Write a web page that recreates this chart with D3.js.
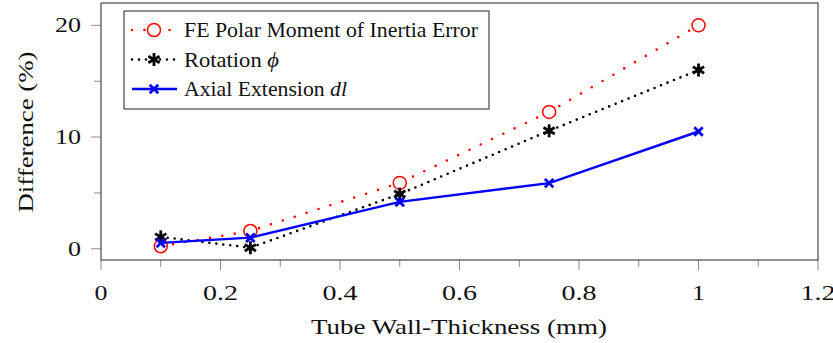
<!DOCTYPE html>
<html>
<head>
<meta charset="utf-8">
<style>
  body { margin: 0; background: #fff; }
  svg text { font-family: "Liberation Serif", "DejaVu Serif", serif; fill: #111; }
</style>
</head>
<body>
<div id="chart"></div>
<script src="https://d3js.org/d3.v7.min.js"></script>
<script>
// data
const thickness = [0.1, 0.25, 0.5, 0.75, 1];
const polarErr = [0.23, 1.6, 5.9, 12.25, 20.0];
const rotation = [1.07, 0.1, 4.9, 10.56, 16.0];
const axialExt = [0.53, 1.0, 4.2, 5.88, 10.5];

const xTicks = [0, 0.2, 0.4, 0.6, 0.8, 1, 1.2];
const xMinor = [0.1, 0.3, 0.5, 0.7, 0.9, 1.1];
const yTicks = [0, 10, 20];
const yMinor = [5, 15];

const width = 833, height = 343;
const plotL = 101, plotR = 818, plotT = 3, plotB = 260;

const svg = d3.select("#chart").append("svg")
  .attr("width", width).attr("height", height);

const x = d3.scaleLinear().domain([0, 1.2]).range([plotL, plotR]);
const y = d3.scaleLinear().domain([-1, 22]).range([plotB, plotT]);

// ticks (outside the frame, grey)
const tickCol = "#8a8a8a";
svg.selectAll(".xt").data(xTicks.concat(xMinor)).enter().append("line")
  .attr("x1", d => x(d)).attr("x2", d => x(d))
  .attr("y1", plotB).attr("y2", d => plotB + (xMinor.includes(d) ? 7 : 10))
  .attr("stroke", tickCol).attr("stroke-width", 1);
svg.selectAll(".yt").data(yTicks.concat(yMinor)).enter().append("line")
  .attr("y1", d => y(d)).attr("y2", d => y(d))
  .attr("x1", d => plotL - (yMinor.includes(d) ? 7 : 10)).attr("x2", plotL)
  .attr("stroke", tickCol).attr("stroke-width", 1);

// frame
svg.append("rect")
  .attr("x", plotL).attr("y", plotT)
  .attr("width", plotR - plotL).attr("height", plotB - plotT)
  .attr("fill", "none").attr("stroke", "#222").attr("stroke-width", 1);

// tick labels (Charter is wider than Times, so stretch a little)
svg.selectAll(".xl").data(xTicks).enter().append("text")
  .attr("x", d => x(d)).attr("y", 300)
  .attr("text-anchor", "middle").attr("font-size", 22)
  .attr("textLength", d => String(d).length === 1 ? 13 : 35)
  .attr("lengthAdjust", "spacingAndGlyphs")
  .text(d => d3.format("")(d));
svg.selectAll(".yl").data(yTicks).enter().append("text")
  .attr("x", 81).attr("y", d => y(d) + 7)
  .attr("text-anchor", "end").attr("font-size", 22)
  .attr("textLength", d => String(d).length === 1 ? 13 : 26)
  .attr("lengthAdjust", "spacingAndGlyphs")
  .text(d => d);

// axis titles
svg.append("text")
  .attr("x", 459).attr("y", 334)
  .attr("text-anchor", "middle").attr("font-size", 22)
  .attr("textLength", 296).attr("lengthAdjust", "spacingAndGlyphs")
  .text("Tube Wall-Thickness (mm)");
svg.append("text")
  .attr("transform", `translate(33,132) rotate(-90)`)
  .attr("text-anchor", "middle").attr("font-size", 22)
  .attr("textLength", 161).attr("lengthAdjust", "spacingAndGlyphs")
  .text("Difference (%)");

const line = d3.line().x(d => x(d[0])).y(d => y(d[1]));
const pts = vals => thickness.map((t, i) => [t, vals[i]]);

const series = [
  { name: "FE Polar Moment of Inertia Error", vals: polarErr, color: "#ff0000",
    dash: "0 12.5", width: 2.6, cap: "round", marker: "circle", len: 294 },
  { name: "Rotation ", math: "ϕ", vals: rotation, color: "#000",
    dash: "0 7", width: 2.6, cap: "round", marker: "asterisk", len: 95 },
  { name: "Axial Extension ", math: "dl", vals: axialExt, color: "#0000ff",
    dash: null, width: 2.4, cap: "butt", marker: "cross", len: 163 }
];

function drawMarker(g, type, color) {
  if (type === "circle") {
    g.append("circle").attr("r", 6.5).attr("fill", "#fff")
      .attr("stroke", color).attr("stroke-width", 1.5);
  } else if (type === "asterisk") {
    [0, 60, 120].forEach(a => {
      g.append("line").attr("x1", 0).attr("y1", -6.5).attr("x2", 0).attr("y2", 6.5)
        .attr("transform", `rotate(${a})`)
        .attr("stroke", color).attr("stroke-width", 2.8);
    });
  } else {
    [45, -45].forEach(a => {
      g.append("line").attr("x1", 0).attr("y1", -6).attr("x2", 0).attr("y2", 6)
        .attr("transform", `rotate(${a})`)
        .attr("stroke", color).attr("stroke-width", 2.8);
    });
  }
}

series.forEach(s => {
  svg.append("path").datum(pts(s.vals))
    .attr("d", line).attr("fill", "none")
    .attr("stroke", s.color).attr("stroke-width", s.width)
    .attr("stroke-linecap", s.cap)
    .attr("stroke-dasharray", s.dash);
  pts(s.vals).forEach(p => {
    const g = svg.append("g").attr("transform", `translate(${x(p[0])},${y(p[1])})`);
    drawMarker(g, s.marker, s.color);
  });
});

// legend
const lg = svg.append("g");
lg.append("rect").attr("x", 124).attr("y", 11).attr("width", 365).attr("height", 98)
  .attr("fill", "#fff").attr("stroke", "#222").attr("stroke-width", 1);
series.forEach((s, i) => {
  const ly = 30 + i * 29.5;
  lg.append("line").attr("x1", 132).attr("x2", 177).attr("y1", ly).attr("y2", ly)
    .attr("stroke", s.color).attr("stroke-width", s.width)
    .attr("stroke-linecap", s.cap).attr("stroke-dasharray", s.dash);
  const g = lg.append("g").attr("transform", `translate(154,${ly})`);
  drawMarker(g, s.marker, s.color);
  const t = lg.append("text").attr("x", 184).attr("y", ly + 7).attr("font-size", 21)
    .attr("textLength", s.len).attr("lengthAdjust", "spacingAndGlyphs");
  t.append("tspan").text(s.name);
  if (s.math) t.append("tspan").attr("font-style", "italic").text(s.math);
});
</script>
</body>
</html>
